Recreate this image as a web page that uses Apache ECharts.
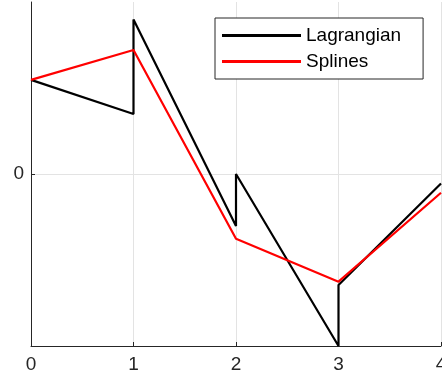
<!DOCTYPE html>
<html>
<head>
<meta charset="utf-8">
<script src="https://cdn.jsdelivr.net/npm/echarts@6/dist/echarts.min.js"></script>
<style>html,body{margin:0;padding:0;background:#fff}#c{width:442px;height:380px}</style>
</head>
<body>
<div id="c"></div>
<script>
var xTicks = [0, 1, 2, 3, 4];
var yTicks = [0];
var lagX = [0, 1, 1, 2, 2, 3, 3, 4];
var lagY = [0.547, 0.349, 0.898, -0.302, 0.0, -1.0, -0.645, -0.055];
var splX = [0, 1, 2, 3, 4];
var splY = [0.547, 0.721, -0.376, -0.626, -0.109];
var seriesNames = ['Lagrangian', 'Splines'];

function pairs(xs, ys) { return xs.map(function (x, i) { return [x, ys[i]]; }); }

var font = 'Liberation Sans, Helvetica, Arial, sans-serif';
var chart = echarts.init(document.getElementById('c'), null, {renderer: 'canvas'});
chart.setOption({
  animation: false,
  backgroundColor: '#fff',
  grid: {left: 31, right: 1, top: 2, bottom: 34, containLabel: false, outerBoundsMode: 'none'},
  xAxis: {
    type: 'value', min: 0, max: 4, interval: 1,
    axisLine: {show: true, onZero: false, lineStyle: {color: '#262626', width: 1}},
    axisTick: {show: true, inside: true, length: 4, lineStyle: {color: '#262626'}},
    axisLabel: {color: '#262626', fontSize: 19, fontFamily: font, margin: 9,
      formatter: function (v) { return xTicks.indexOf(v) >= 0 ? String(v) : ''; }},
    splitLine: {show: true, lineStyle: {color: '#e3e3e3', width: 1}}
  },
  yAxis: {
    type: 'value', min: -1, max: 1, interval: 1,
    axisLine: {show: true, onZero: false, lineStyle: {color: '#262626', width: 1}},
    axisTick: {show: true, inside: true, length: 4, lineStyle: {color: '#262626'},
      customValues: yTicks},
    axisLabel: {color: '#262626', fontSize: 19, fontFamily: font, margin: 7,
      customValues: yTicks},
    splitLine: {show: true, lineStyle: {color: '#e3e3e3', width: 1}}
  },
  legend: {
    orient: 'vertical', left: 215, top: 18,
    data: seriesNames,
    backgroundColor: '#fff', borderColor: '#262626', borderWidth: 1, borderRadius: 0,
    padding: [8, 22, 8, 7], itemGap: 7, itemWidth: 79, itemHeight: 3, icon: 'rect',
    textStyle: {color: '#000', fontSize: 19, fontFamily: font},
    itemStyle: {borderWidth: 0}
  },
  series: [
    {name: seriesNames[0], type: 'line', data: pairs(lagX, lagY), showSymbol: false, symbol: 'none',
     lineStyle: {color: '#000', width: 2.2}, itemStyle: {color: '#000'}, z: 3},
    {name: seriesNames[1], type: 'line', data: pairs(splX, splY), showSymbol: false, symbol: 'none',
     lineStyle: {color: '#ff0000', width: 2.2}, itemStyle: {color: '#ff0000'}, z: 4}
  ]
});
</script>
</body>
</html>
